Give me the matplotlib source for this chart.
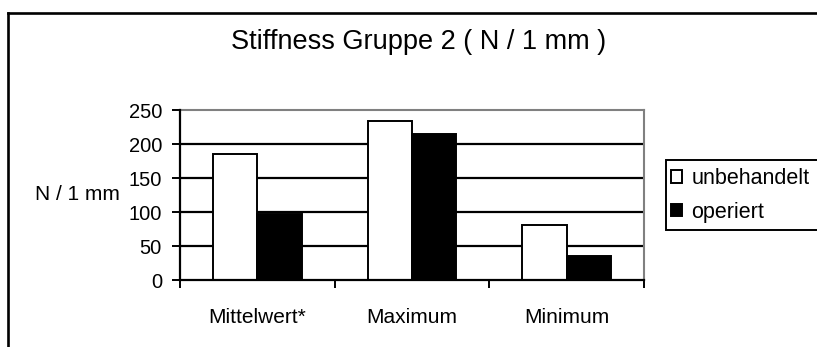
import matplotlib
matplotlib.use("Agg")
import matplotlib.pyplot as plt
import numpy as np
from matplotlib.lines import Line2D
from matplotlib.patches import Rectangle, Patch

plt.rcParams['font.family'] = ['Liberation Sans', 'DejaVu Sans']

categories = ["Mittelwert*", "Maximum", "Minimum"]
unbehandelt = [186, 234, 81]
operiert = [97, 214, 35]
series_labels = ["unbehandelt", "operiert"]
y_ticks = [0, 50, 100, 150, 200, 250]

W, H, DPI = 817, 347, 100
fig = plt.figure(figsize=(W / DPI, H / DPI), dpi=DPI)
fig.patch.set_facecolor("white")

def fx(px):
    return px / W

def fy(py):
    return 1 - py / H

# outer chart frame (left and top edges visible)
fig.add_artist(Line2D([fx(8), fx(8)], [fy(12.5), -0.1], color="black", lw=1.9,
                      transform=fig.transFigure, solid_capstyle="projecting"))
fig.add_artist(Line2D([fx(8), 1.1], [fy(12.5), fy(12.5)], color="black", lw=1.9,
                      transform=fig.transFigure, solid_capstyle="projecting"))

ax = fig.add_axes([fx(180), fy(280), fx(644) - fx(180), fy(110) - fy(280)])
ax.set_facecolor("white")

x = np.arange(len(categories))
bw = 1 / 3.5
lw = 1.4
ax.bar(x - bw / 2, unbehandelt, bw, color="white", edgecolor="black", linewidth=lw, zorder=3)
ax.bar(x + bw / 2, operiert, bw, color="black", edgecolor="black", linewidth=lw, zorder=3)

ax.set_xlim(-0.5, len(categories) - 0.5)
ax.set_ylim(0, 250)
ax.set_yticks(y_ticks)
ax.set_yticklabels([str(v) for v in y_ticks], fontsize=14.5)
for v in y_ticks[1:-1]:
    ax.axhline(v, color="black", lw=1.6, zorder=1)

ax.set_xticks(x)
ax.set_xticklabels(categories, fontsize=15)
ax.set_xticks(np.arange(len(categories) + 1) - 0.5, minor=True)
ax.tick_params(axis="x", which="major", length=0, pad=20)
ax.tick_params(axis="x", which="minor", length=6, width=1.4, direction="out", color="black")
ax.tick_params(axis="y", length=6, width=1.4, direction="out", pad=7, color="black")

for side in ("left", "bottom"):
    ax.spines[side].set_color("black")
    ax.spines[side].set_linewidth(1.6)
    ax.spines[side].set_zorder(4)
for side in ("top", "right"):
    ax.spines[side].set_color("#808080")
    ax.spines[side].set_linewidth(1.5)

fig.text(fx(77), fy(194), "N / 1 mm", fontsize=15, ha="center", va="center")
fig.text(fx(419), fy(42), "Stiffness Gruppe 2 ( N / 1 mm )", fontsize=19.5,
         ha="center", va="center")

# legend box
fig.add_artist(Rectangle((fx(666), fy(230)), fx(900) - fx(666), fy(160) - fy(230),
                         transform=fig.transFigure, facecolor="white",
                         edgecolor="black", lw=1.4))
handles = [Patch(facecolor="white", edgecolor="black", lw=1.4),
           Patch(facecolor="black", edgecolor="black", lw=1.4)]
fig.legend(handles, series_labels, loc="center left",
           bbox_to_anchor=(fx(671), fy(195.5)), frameon=False, fontsize=15.5,
           handlelength=0.5, handleheight=0.5, handletextpad=0.45,
           labelspacing=0.6, borderpad=0, borderaxespad=0)

fig.savefig("out.png", dpi=DPI)
